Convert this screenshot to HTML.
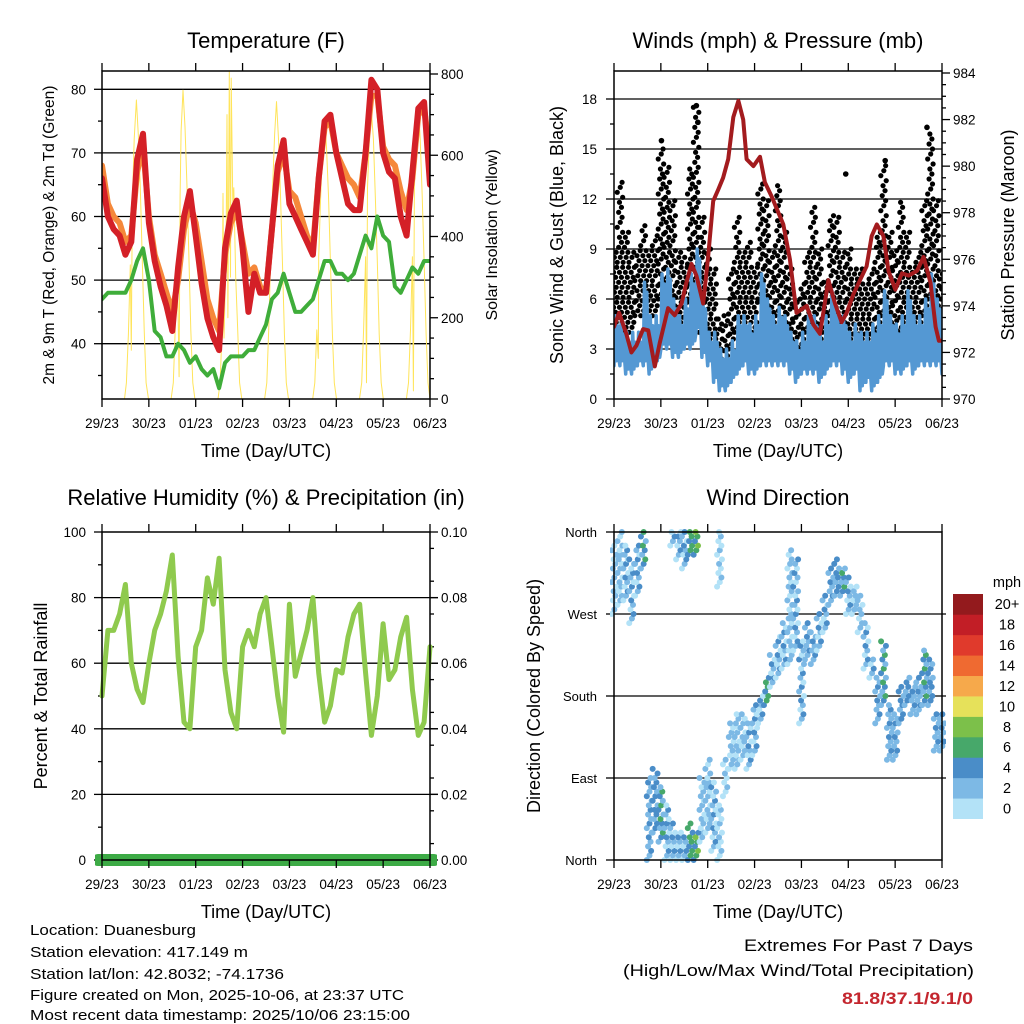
<!DOCTYPE html>
<html><head><meta charset="utf-8"><style>
html,body{margin:0;padding:0;background:#fff;}
svg{display:block;font-family:"Liberation Sans",sans-serif;}
</style></head><body>
<svg id="chart" width="1024" height="1024" viewBox="0 0 1024 1024" xmlns="http://www.w3.org/2000/svg">
<defs>
<clipPath id="c1"><rect x="102" y="71" width="328" height="328"/></clipPath>
<clipPath id="c2"><rect x="614" y="71" width="328" height="328"/></clipPath>
<clipPath id="c3"><rect x="95" y="532" width="342" height="340"/></clipPath>
<clipPath id="c4"><rect x="610" y="528" width="336" height="336"/></clipPath>
</defs>
<rect x="0" y="0" width="1024" height="1024" fill="#fff"/>
<g font-size="22" text-anchor="middle" fill="#000">
<text x="266" y="48">Temperature (F)</text>
<text x="778" y="48">Winds (mph) &amp; Pressure (mb)</text>
<text x="266" y="505">Relative Humidity (%) &amp; Precipitation (in)</text>
<text x="778" y="505">Wind Direction</text>
</g>
<g font-size="18" text-anchor="middle" fill="#000">
<text x="266" y="457">Time (Day/UTC)</text>
<text x="778" y="457">Time (Day/UTC)</text>
<text x="266" y="918">Time (Day/UTC)</text>
<text x="778" y="918">Time (Day/UTC)</text>
<text font-size="15.5" transform="translate(54,235) rotate(-90)">2m &amp; 9m T (Red, Orange) &amp; 2m Td (Green)</text>
<text font-size="16" transform="translate(497,235) rotate(-90)">Solar Insolation (Yellow)</text>
<text transform="translate(563,235) rotate(-90)">Sonic Wind &amp; Gust (Blue, Black)</text>
<text transform="translate(1014,235) rotate(-90)">Station Pressure (Maroon)</text>
<text transform="translate(47,696) rotate(-90)">Percent &amp; Total Rainfall</text>
<text transform="translate(540,696) rotate(-90)">Direction (Colored By Speed)</text>
</g>
<g font-size="15" fill="#000">
<text x="30" y="935" textLength="166" lengthAdjust="spacingAndGlyphs">Location: Duanesburg</text>
<text x="30" y="957" textLength="218" lengthAdjust="spacingAndGlyphs">Station elevation: 417.149 m</text>
<text x="30" y="979" textLength="254" lengthAdjust="spacingAndGlyphs">Station lat/lon: 42.8032; -74.1736</text>
<text x="30" y="1000" textLength="374" lengthAdjust="spacingAndGlyphs">Figure created on Mon, 2025-10-06, at 23:37 UTC</text>
<text x="30" y="1020" textLength="380" lengthAdjust="spacingAndGlyphs">Most recent data timestamp: 2025/10/06 23:15:00</text>
</g>
<g font-size="17" text-anchor="end">
<text x="973" y="951" textLength="229" lengthAdjust="spacingAndGlyphs">Extremes For Past 7 Days</text>
<text x="974" y="976" textLength="351" lengthAdjust="spacingAndGlyphs">(High/Low/Max Wind/Total Precipitation)</text>
<text x="973" y="1004" font-weight="bold" fill="#c4262e" textLength="131" lengthAdjust="spacingAndGlyphs">81.8/37.1/9.1/0</text>
</g>
</svg>
<script>
// ---------- data ----------
const dayLabels = ['29/23','30/23','01/23','02/23','03/23','04/23','05/23','06/23'];
const tempTicks = [40,50,60,70,80];
const solarTicks = [0,200,400,600,800];
const windTicks = [0,3,6,9,12,15,18];
const pressTicks = [970,972,974,976,978,980,982,984];
const rhTicks = [0,20,40,60,80,100];
const rainTicks = ['0.00','0.02','0.04','0.06','0.08','0.10'];
const dirTicks = ['North','East','South','West','North'];
const speedLabels = ['0','2','4','6','8','10','12','14','16','18','20+'];
const speedColors = ['#b3e2f7','#7db9e5','#4a8dc8','#47a86a','#7cc04a','#e6e15a','#f6a94b','#ef6a31','#e03a2c','#c21e26','#931a1d'];

const temp2m = [66,60,58,57,54,56,69,73,59,53,49,46,42,52,60,64,57,49.5,44,41,39,55,60.5,62.5,55,45,51,48,48,58,68,72,62,60,58,56,54,66,75,76,70,66,62,61,61,70,81.5,80,70,67,66,60,57,67,77,78,65];
const temp9m = [68,62,60,59,56,57,67,71,60,54,51,48,45,50,58,62,59,53,47,44,42,54,59,61,56,51,52,49,48,58,67,70,64,63,60,57,55,66,74,75,70,68,66,65,63,70,79,79,71,69,68,64,61,66,76,77,70];
const dewpt = [47,48,48,48,48,50,53,55,50,42,41,38,38,40,39,37,38,36,35,36,33,37,38,38,38,39,39,41,43,47,48,51,48,45,45,46,47,50,53,53,51,51,50,51,54,57,55,60,57,56,49,48,50,52,51,53,53];
const solarT = [11.5,12.5,13.5,14.5,15,15.5,16.5,17.6,18.6,19.6,20.6,21.6,22.6,23.8,
 35.4,36.5,37.5,38.5,39.5,40,40.5,41.5,42.5,43.5,44.5,45.5,46.5,47.6,
 59.4,60.5,61.5,62,62.5,63.5,64,64.5,65.2,65.8,66.2,67,67.5,68.5,69.5,70.5,71.6,
 83.3,84.4,85.4,86.4,87.4,88.4,89.4,90.4,91.4,92.4,93.4,94.4,95.5,
 107.9,109,110,110.8,111,112,113,114,115,116,117,118,119,120.1,
 131.9,133,134,135,135.5,136,137,138,139,140,141,142,143,144.1,
 155.9,157,158,159,159.5,160,161,162,163,164,165,166,167,168];
const solarW = [0,40,160,330,120,480,640,736,650,520,350,170,40,0,
 0,40,170,350,55,500,660,760,670,530,350,170,40,0,
 0,40,170,506,150,350,700,200,805,300,790,480,520,300,170,40,0,
 0,40,170,350,520,650,732,640,510,340,160,40,0,
 0,40,170,100,350,500,620,690,620,500,340,160,40,0,
 0,40,170,350,40,520,650,707,640,500,340,160,40,0,
 0,40,170,350,20,520,650,723,640,500,340,160,40,0];

const windLo = [2,2,1.5,1.5,2,2,1.5,2,3,3,2.5,2.5,3,3,4,2.5,2,1,0.5,0.5,1,1.5,2,1.5,1.5,2,2,2,2,2,1.5,1,1.5,1.5,1.5,1,1.5,2,2,1.5,1,1.5,0.5,1,0.5,1,2,2,1.5,1.5,2,1.5,2,2,2,2,1.5];
const windHi = [5,4.5,4,4,4,7,5,5,7.5,7.8,6,5,6,7.5,9,6,4,4,3,3,3.5,5,5,4.5,5,7.5,6,5,5.5,5,4,3.5,4,5,5,4,5,6.5,5,5,4,4.5,4,4,4.5,5,6.5,5,4.5,5,6.5,5,5,6,7.5,6,4];
const gustLo = [4,4,4,4,5,5,5,5,6,7,5,4,4,6,7,4,3,3,1.8,2,3,4,4,4,4,6,5,4,5,4,3,2.5,3,4,4,3,4,5,4,4,3,3,3,3,3,4,5,4,3.5,4,4,4,4,5,6,5,3];
const gustHi = [9,13,10,9,9,10.5,9,10,15,14,12,9,8.5,14,17.6,11,9,8,5,5,8,11,9,9.5,8,13,12,9,12.8,10,8,6,7,9,11.5,9,7,11,11,9,9,8,8,7,8,10,14,10,9,12,10,8,9,12,16,12,8];
const gustPeakT = [24.3,42.2,43,160.3,118.7,138.9];
const gustPeakV = [15.5,17.6,16.6,16.3,13.5,14.3];
const pressT = [0,2.6,6.3,8.9,11.5,14.9,17.5,20.9,23.4,27.7,31.1,34.6,37.1,39.7,42.2,45.7,48.2,50.8,53.4,55.9,58.5,61.1,63.7,66.2,67.9,71.4,74.8,77.3,80.7,84.2,86.7,90.1,93.5,98.7,102.1,105.5,109.8,113.2,116.6,119.2,122.6,126.0,129.4,132.0,134.6,138.0,140.6,144.1,147.5,150.9,155.2,158.6,162.1,164.7,166.4,168];
const pressMb = [973.1,973.7,972.8,972.0,972.3,973.0,972.95,971.4,972.4,973.9,973.6,974.1,975.0,975.8,975.3,974.1,976.1,978.5,979.0,979.5,980.3,982.1,982.8,982.0,980.3,980.0,980.4,979.3,978.7,978.0,977.5,976.0,973.7,974.0,973.2,972.8,975.1,974.1,973.3,973.7,974.5,975.1,975.7,977.0,977.5,977.0,975.5,974.7,975.4,975.3,975.5,976.1,975.0,973.1,972.5,972.5];

const rh = [50,70,70,75,84,60,52,48,60,70,75,82,93,62,42,40,65,70,86,78,92,58,45,40,65,70,65,75,80,65,50,39,78,56,63,70,80,57,42,47,58,57,68,75,78,57,38,50,72,55,58,68,74,52,38,42,65];
const rainTotal = [0,0];

const dirLo = [270,280,285,260,290,320,0,30,20,0,0,0,0,0,0,20,30,10,0,70,100,100,110,100,115,150,170,190,200,210,215,230,150,220,215,230,250,280,290,290,270,270,250,210,200,150,170,110,110,150,170,160,160,170,170,120,120];
const dirHi = [345,360,345,330,345,360,90,100,80,60,40,30,25,40,30,90,110,85,60,110,150,160,160,150,170,180,200,225,245,260,340,330,240,260,250,270,290,320,330,320,310,300,290,260,220,200,240,170,160,190,200,190,200,230,220,160,160];
const altIdx = [10,11,12,13,14,18];
const altLo = [345,330,320,335,335,300];
const altHi = [360,360,360,360,360,360];
const dirSpd = [2,2.5,3,3,3,5,3.5,4,5,3,3,3,3,6,7,2.5,2.5,3,1,1.5,2.5,2.5,2.5,3,3,3,6,3,3,3,2,3,3,3.5,3.5,3,3,3.5,4,5,3,2.5,2.5,3,3,3.5,5,3.5,3.5,4,4,3.5,3.5,5,4,3.5,3.5];

// ---------- helpers ----------
const NS='http://www.w3.org/2000/svg';
const svg=document.getElementById('chart');
function mk(tag, attrs, parent){const e=document.createElementNS(NS,tag);for(const k in attrs)e.setAttribute(k,attrs[k]);(parent||svg).appendChild(e);return e;}
const STEP=3;
const x1=t=>102+t*328/168;
const x2=t=>614+t*328/168;
const yT=v=>89.3+(80-v)*6.36;
const yS=v=>399-v*325/800;
const yW=v=>399-v*300/18;
const yP=v=>399-(v-970)*326/14;
const yR=v=>860-v*3.28;
const yRain=v=>860-v*3280;
const yD=v=>860-v*328/360;

function grid(x0,xe,y,name){const g=mk('line',{x1:x0,x2:xe,y1:y,y2:y,stroke:'#000','stroke-width':1.3});

}
function tick(xa,ya,xb,yb){const t=mk('line',{x1:xa,y1:ya,x2:xb,y2:yb,stroke:'#000','stroke-width':1.3});

}
function label(x,y,txt,anchor,name,size){const t=mk('text',{x:x,y:y,'text-anchor':anchor,'font-size':size||13.5,fill:'#000'});t.textContent=txt;


return t;}
function frame(x0,y0,name){const f=mk('rect',{x:x0,y:y0,width:328,height:328,fill:'none',stroke:'#000','stroke-width':1.5});

}
function xAxis(xf,yb,yt){dayLabels.forEach((d,i)=>{const x=xf(i*24);tick(x,yt,x,yt-8);tick(x,yb,x,yb+8);label(x,yb+29,d,'middle','x-tick-label');});}
function line(pts,stroke,w,name,parent){const p=mk('polyline',{points:pts.map(a=>a[0].toFixed(1)+','+a[1].toFixed(1)).join(' '),fill:'none',stroke:stroke,'stroke-width':w,'stroke-linejoin':'round','stroke-linecap':'round'},parent);


return p;}

// ---------- panel 1: temperature ----------
tempTicks.forEach(v=>{grid(102,430,yT(v),'temp-gridline');tick(102,yT(v),94,yT(v));label(86,yT(v)+5,String(v),'end','temp-tick-label');});
[35,45,55,65,75].forEach(v=>tick(102,yT(v),98,yT(v)));
solarTicks.forEach(v=>{tick(430,yS(v),438,yS(v));label(441,yS(v)+5,String(v),'start','solar-tick-label');});
for(let v=50;v<800;v+=50){if(v%200)tick(430,yS(v),434,yS(v));}
const g1=mk('g',{'clip-path':'url(#c1)'});


line(solarT.map((t,i)=>[x1(t),yS(solarW[i])]),'#ffe45a',1,'solar-line',g1);
line(dewpt.map((v,i)=>[x1(i*STEP),yT(v)]),'#3fad3a',4,'dewpoint-line',g1);
line(temp9m.map((v,i)=>[x1(i*STEP),yT(v)]),'#f5883a',6,'temp-9m-line',g1);
line(temp2m.map((v,i)=>[x1(i*STEP),yT(v)]),'#d42027',6,'temp-2m-line',g1);
frame(102,71,'temperature-frame');
xAxis(x1,399,71);

// ---------- panel 2: winds ----------
windTicks.forEach(v=>{if(v>0)grid(614,942,yW(v),'wind-gridline');tick(614,yW(v),606,yW(v));label(597,yW(v)+5,String(v),'end','wind-tick-label');});
for(let v=1.5;v<19;v+=3)tick(614,yW(v),610,yW(v));
pressTicks.forEach(v=>{tick(942,yP(v),950,yP(v));label(953,yP(v)+5,String(v),'start','pressure-tick-label');});
for(let v=970.5;v<984;v+=0.5){if(Math.abs(v%2)>0.01)tick(942,yP(v),946,yP(v));}
const g2=mk('g',{'clip-path':'url(#c2)'});


const jit=[-2.6,0.4,2.2,-1.2,1.6,-0.4,2.8];
gustLo.forEach((lo,i)=>{let k=0;for(let v=lo;v<=gustHi[i]+0.01;v+=0.3){const c=mk('circle',{cx:x2(i*STEP)+jit[k%7],cy:yW(Math.min(v,gustHi[i])),r:2.6,fill:'#000'},g2);


k++;}});
gustPeakT.forEach((t,i)=>{const c=mk('circle',{cx:x2(t),cy:yW(gustPeakV[i]),r:2.8,fill:'#000'},g2);

});
const windPts=[];
windLo.forEach((lo,i)=>{const t=i*STEP,hi=windHi[i];
windPts.push([x2(t),yW(lo)]);windPts.push([x2(t+0.6),yW(hi)]);windPts.push([x2(t+1.2),yW(lo+0.3)]);windPts.push([x2(t+1.8),yW(hi-0.6)]);windPts.push([x2(t+2.4),yW(lo+0.5)]);});
line(windPts,'#5498d3',3.5,'sonic-wind-line',g2);
line(pressT.map((t,i)=>[x2(t),yP(pressMb[i])]),'#a31b1e',4,'pressure-line',g2);
frame(614,71,'winds-frame');
xAxis(x2,399,71);

// ---------- panel 3: humidity ----------
rhTicks.forEach((v,i)=>{if(v>0&&v<100)grid(102,438,yR(v),'humidity-gridline');tick(102,yR(v),94,yR(v));label(86,yR(v)+5,String(v),'end','humidity-tick-label');
tick(430,yR(v),438,yR(v));label(441,yR(v)+5,rainTicks[i],'start','rain-tick-label');});
for(let v=10;v<100;v+=20){tick(102,yR(v),98,yR(v));}
for(let v=5;v<100;v+=10){tick(430,yR(v),434,yR(v));}
const g3=mk('g',{'clip-path':'url(#c3)'});


line(rh.map((v,i)=>[x1(i*STEP),yR(v)]),'#8fca4e',5,'humidity-line',g3);
line(rainTotal.map((v,i)=>[i===0?98:434,yRain(v)]),'#3dab46',12,'precipitation-line',g3);
frame(102,532,'humidity-frame');
xAxis(x1,860,532);

// ---------- panel 4: wind direction ----------
dirTicks.forEach((d,i)=>{const y=yD(i*90);if(i>0&&i<4)grid(614,946,y,'direction-gridline');tick(614,y,606,y);label(597,y+5,d,'end','direction-tick-label',13);});
const g4=mk('g',{'clip-path':'url(#c4)'});


function dirDots(i,lo,hi){let k=0;for(let d=lo;d<=hi+0.01;d+=5){const s=dirSpd[i]+((k%3)-1)*1.3;const cls=Math.max(0,Math.min(10,Math.floor(s/2)));
const c=mk('circle',{cx:x2(i*STEP)+jit[k%7]*0.9,cy:yD(Math.min(d,hi)),r:3,fill:speedColors[cls]},g4);


k++;}}
dirLo.forEach((lo,i)=>dirDots(i,lo,dirHi[i]));
altIdx.forEach((i,j)=>dirDots(i,altLo[j],altHi[j]));
frame(614,532,'direction-frame');
xAxis(x2,860,532);

// colorbar
const cb=mk('g',{});


const bh=224.7/speedColors.length;
speedColors.forEach((c,i)=>{const yy=594+(speedColors.length-1-i)*bh;const r=mk('rect',{x:953,y:yy,width:30,height:bh+0.3,fill:c},cb);


const t=label(1007,yy+bh/2+5,speedLabels[i],'middle','colorbar-label',14.5);cb.appendChild(t);});
const mph=label(1007,587,'mph','middle','colorbar-title',14.5);
</script>
</body></html>
